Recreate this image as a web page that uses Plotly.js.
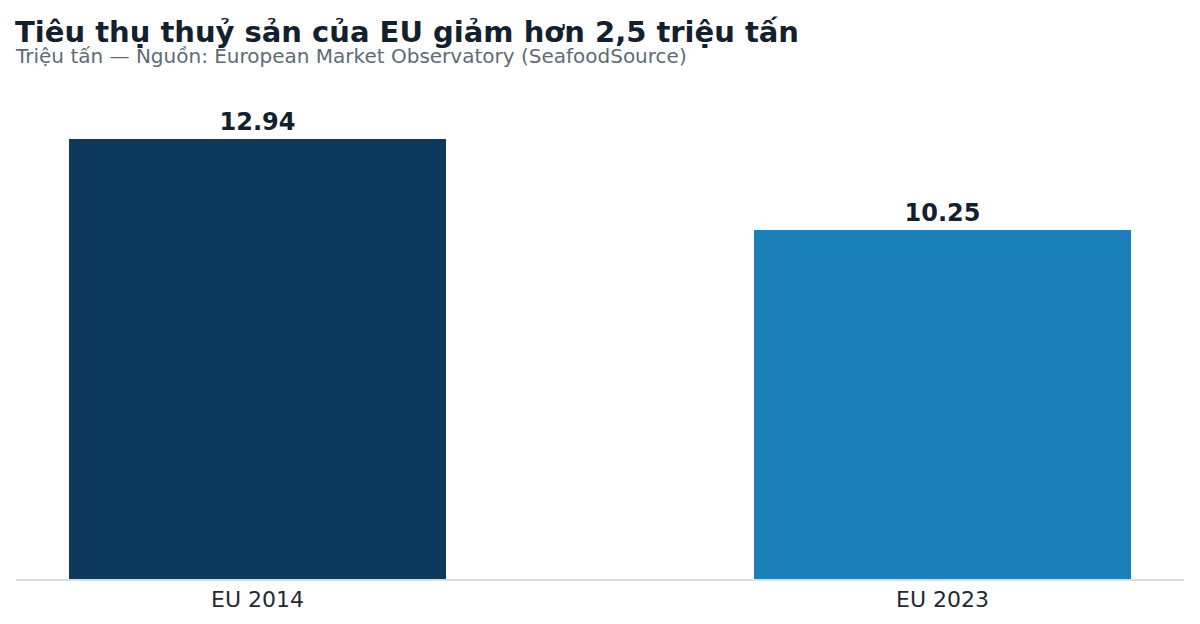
<!DOCTYPE html>
<html><head><meta charset="utf-8">
<script src="https://cdn.plot.ly/plotly-3.0.1.min.js"></script>
<style>html,body{margin:0;padding:0;background:#fff}#c{width:1200px;height:624px}</style>
</head><body><div id="c"></div>
<script>
const categories = ["EU 2014", "EU 2023"];
const values = [12.94, 10.25];
const valueLabels = ["12.94", "10.25"];
const barColors = ["#0d3a5c", "#1c80b8"];
const titleText = "Tiêu thụ thuỷ sản của EU giảm hơn 2,5 triệu tấn";
const subtitleText = "Triệu tấn — Nguồn: European Market Observatory (SeafoodSource)";

const trace = {
  type: "bar",
  x: categories,
  y: values,
  text: valueLabels,
  textposition: "outside",
  textfont: {family: "DejaVu Sans", size: 24, color: "#13212e"},
  texttemplate: "<b>%{text}</b>",
  marker: {color: barColors, line: {width: 0}},
  width: 0.55,
  cliponaxis: false,
  hoverinfo: "skip"
};

const layout = {
  width: 1200, height: 624,
  margin: {l: 16, r: 16, t: 90, b: 45},
  paper_bgcolor: "#fff", plot_bgcolor: "#fff",
  showlegend: false,
  font: {family: "DejaVu Sans", color: "#1f2a33"},
  xaxis: {
    range: [-0.3526, 1.3526],
    showgrid: false, zeroline: false,
    showline: true, linecolor: "#d9dde0", linewidth: 2,
    ticks: "", tickfont: {size: 22, color: "#1f2a33"}
  },
  yaxis: {
    range: [0, 14.38], visible: false, showgrid: false, zeroline: false, fixedrange: true
  },
  bargap: 0,
  annotations: [
    {text: "<b>" + titleText + "</b>", xref: "paper", yref: "paper", x: 0, y: 1.1186,
     xanchor: "left", yanchor: "middle", showarrow: false, xshift: -3,
     font: {family: "DejaVu Sans", size: 29, color: "#13212e"}},
    {text: subtitleText, xref: "paper", yref: "paper", x: 0, y: 1.0695,
     xanchor: "left", yanchor: "middle", showarrow: false, xshift: -3,
     font: {family: "DejaVu Sans", size: 20, color: "#5f6b74"}}
  ]
};

Plotly.newPlot("c", [trace], layout, {displayModeBar: false, staticPlot: true});
</script></body></html>
